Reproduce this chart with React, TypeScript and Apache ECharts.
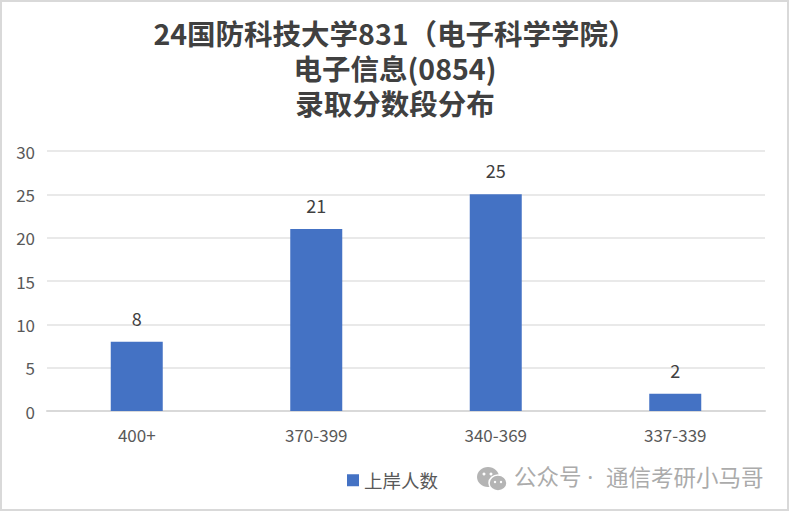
import React, { useEffect, useRef } from "react";
import * as echarts from "echarts";

const categories = ["400+", "370-399", "340-369", "337-339"];
const values = [8, 21, 25, 2];
const titleLines = "24国防科技大学831（电子科学学院）\n电子信息(0854)\n录取分数段分布";
const seriesName = "上岸人数";
const watermarkPrefix = "公众号 ·";
const watermarkName = "通信考研小马哥";

export default function App() {
  const ref = useRef<HTMLDivElement>(null);
  useEffect(() => {
    const chart = echarts.init(ref.current!, undefined, { renderer: "svg" });
    const font = "'Noto Sans CJK SC', 'Noto Sans', sans-serif";
    const latinFirst = "'Noto Sans', 'Noto Sans CJK SC', sans-serif";
    const iconGrey = "#b4b4b4";
    chart.setOption({
      animation: false,
      backgroundColor: "#ffffff",
      textStyle: { fontFamily: font },
      title: {
        text: titleLines,
        left: 390,
        top: 10,
        textAlign: "center",
        textStyle: { fontSize: 28.5, fontWeight: "bold", color: "#404040", lineHeight: 35, fontFamily: font },
      },
      grid: { left: 47, right: 24, top: 151, bottom: 100 },
      xAxis: {
        type: "category",
        data: categories,
        axisTick: { show: false },
        axisLine: { lineStyle: { color: "#d9d9d9", width: 2 } },
        axisLabel: { color: "#595959", fontSize: 17, margin: 15 },
      },
      yAxis: {
        type: "value",
        min: 0,
        max: 30,
        interval: 5,
        axisLabel: { color: "#595959", fontSize: 17, margin: 12 },
        axisLine: { show: false },
        axisTick: { show: false },
        splitLine: { lineStyle: { color: "#e2e2e2", width: 1.5 } },
      },
      legend: {
        data: [seriesName],
        left: 342,
        top: 466,
        icon: "rect",
        itemWidth: 12,
        itemHeight: 12,
        itemGap: 7,
        textStyle: { color: "#595959", fontSize: 18.5 },
      },
      series: [
        {
          name: seriesName,
          type: "bar",
          data: values,
          barWidth: 52,
          itemStyle: { color: "#4472c4" },
          label: { show: true, position: "top", distance: 15, color: "#404040", fontSize: 18 },
        },
      ],
      graphic: [
        {
          type: "rect",
          shape: { x: 1, y: 1, width: 787, height: 509 },
          style: { fill: "none", stroke: "#d9d9d9", lineWidth: 2 },
          silent: true,
        },
        { type: "ellipse", shape: { cx: 488, cy: 477, rx: 11, ry: 10 }, style: { fill: iconGrey } },
        { type: "ellipse", shape: { cx: 498, cy: 483, rx: 9, ry: 8 }, style: { fill: iconGrey, stroke: "#ffffff", lineWidth: 1.5 } },
        { type: "circle", shape: { cx: 484, cy: 474, r: 1.5 }, style: { fill: "#ffffff" } },
        { type: "circle", shape: { cx: 491, cy: 474, r: 1.5 }, style: { fill: "#ffffff" } },
        { type: "circle", shape: { cx: 495, cy: 482, r: 1.2 }, style: { fill: "#ffffff" } },
        { type: "circle", shape: { cx: 501, cy: 482, r: 1.2 }, style: { fill: "#ffffff" } },
        {
          type: "text",
          left: 514,
          top: 465,
          style: { text: watermarkPrefix, fill: "#ababab", fontSize: 22.5, fontFamily: latinFirst },
        },
        {
          type: "text",
          left: 606,
          top: 465,
          style: { text: watermarkName, fill: "#ababab", fontSize: 22.5, fontFamily: font },
        },
      ],
    });
    return () => chart.dispose();
  }, []);
  return <div ref={ref} style={{ position: "fixed", left: 0, top: 0, width: 789, height: 511 }} />;
}
